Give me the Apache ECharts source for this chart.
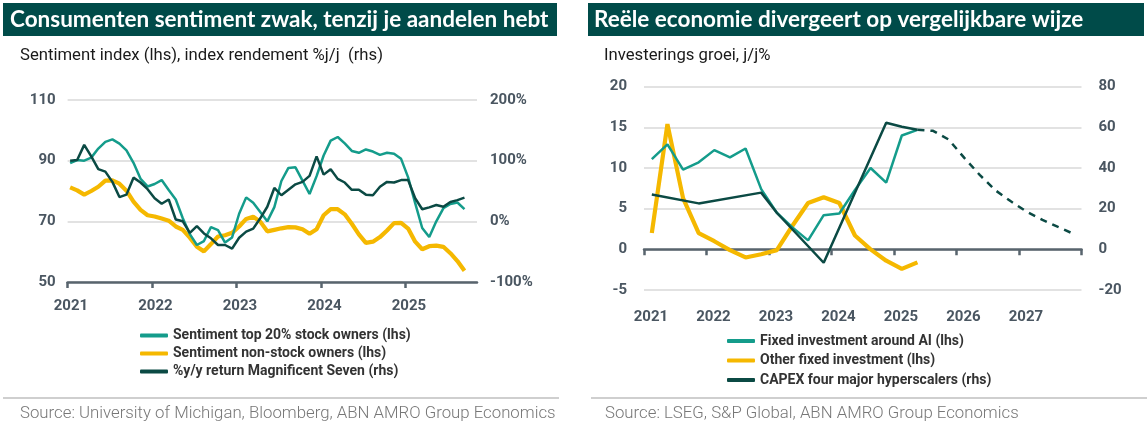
<!DOCTYPE html>
<html><head><meta charset="utf-8">
<script src="https://cdn.jsdelivr.net/npm/echarts@6/dist/echarts.min.js"></script>
<style>html,body{margin:0;padding:0;background:#fff}#c{width:1147px;height:426px}</style>
</head><body><div id="c"></div>
<script>
// ---------- LEFT CHART DATA (monthly, from Jan 2021) ----------
const leftStartYear = 2021;
const top20 = [89.2,90.2,90.0,91.0,94.0,96.2,97.0,95.6,93.4,89.3,84.0,81.5,82.3,83.6,80.3,77.2,71.0,65.8,62.2,63.5,68.1,67.1,63.0,64.7,72.5,77.9,76.1,73.1,70.0,74.7,83.3,87.6,87.8,83.4,79.0,84.9,91.7,96.6,97.8,95.7,93.2,92.6,93.7,93.0,91.9,92.6,92.3,90.6,84.5,76.0,67.8,64.8,70.0,74.3,75.7,76.2,74.0];
const nonStock = [81.2,80.2,78.8,80.0,81.4,83.4,83.5,82.4,80.1,76.5,73.8,72.0,71.6,70.9,70.2,68.3,67.2,64.6,61.6,60.1,62.5,65.0,65.4,66.2,68.3,70.8,71.5,69.9,66.7,67.2,67.7,68.1,68.0,67.4,65.9,67.4,72.0,74.0,74.0,72.3,69.2,65.7,62.9,63.3,64.8,67.0,69.4,69.5,67.6,63.3,60.8,61.8,62.0,61.6,59.5,56.9,53.7];
const mag7 = [100,101,126,107,86,82,65,40,44,72,64,53,38,29,36,3,0,-19,-8,-20,-28,-39,-39,-45,-27,-17,-12,5,24,55,43,52,61,65,75,107,77,86,70,64,52,52,44,43,57,65,64,68,68,38,20,23,27,24,32,35,39];
const leftYears = [2021,2022,2023,2024,2025];
const leftNames = ['Sentiment top 20% stock owners (lhs)','Sentiment non-stock owners (lhs)','%y/y return Magnificent Seven (rhs)'];

// ---------- RIGHT CHART DATA (quarterly, from Q1 2021) ----------
const rightStartYear = 2021;
const aiInv = [11.1,12.9,9.8,10.7,12.2,11.3,12.4,7.4,4.5,2.7,1.1,4.2,4.4,7.3,10.0,8.2,14.0,14.7];
const otherInv = [2.0,15.4,6.3,2.0,1.0,-0.1,-1.0,-0.6,-0.1,2.9,5.7,6.4,5.7,1.7,0.0,-1.4,-2.4,-1.6];
const capexQ = [0,3,7,8,11,15,16,17];
const capexVal = [27.0,22.6,27.9,18.0,-6.6,62.3,60.3,58.8];
const fcQ = [17,18,19,20,21,22,23,24,25,26,27];
const fcVal = [58.8,58.3,54.0,45.0,36.5,29.0,23.5,18.5,14.5,11.0,7.6];
const rightYears = [2021,2022,2023,2024,2025,2026,2027];
const rightNames = ['Fixed investment around AI (lhs)','Other fixed investment (lhs)','CAPEX four major hyperscalers (rhs)'];

const GREEN = '#149c8b', YELLOW = '#f5b800', DARK = '#0b4a44', BAR = '#004b49';
const AXISC = '#58646d', LABC = '#4a5661', GRIDC = '#d9d9d9';
const FONT = 'Roboto, "Liberation Sans", sans-serif';
const NARROW = '"Liberation Sans Narrow", Roboto, sans-serif';

const mX = k => leftStartYear + k / 12 + 0.03;
const qX = k => rightStartYear + (k + 0.5) / 4;
const pairsM = arr => arr.map((v, k) => [mX(k), v]);

const yLab = { color: LABC, fontFamily: FONT, fontSize: 15, fontWeight: 'bold' };

const chart = echarts.init(document.getElementById('c'), null, { renderer: 'canvas' });
chart.setOption({
  animation: false,
  backgroundColor: '#fff',
  grid: [
    { left: 67.6, top: 100, width: 409.4, height: 182 },
    { left: 644, top: 86.7, width: 437.5, height: 203.3 }
  ],
  xAxis: [
    { gridIndex: 0, type: 'value', min: 2021, max: 2025.845, position: 'bottom',
      axisLine: { show: true, onZero: false, lineStyle: { color: AXISC, width: 2.5 } },
      axisTick: { show: true, customValues: leftYears, length: 6, lineStyle: { color: AXISC, width: 2.5 } },
      axisLabel: { customValues: leftYears.map(y => y + 0.04), formatter: v => String(Math.floor(v)), margin: 17, ...yLab },
      splitLine: { show: false } },
    { gridIndex: 1, type: 'value', min: 2021, max: 2028, interval: 1, position: 'bottom',
      axisLine: { show: true, onZero: true, lineStyle: { color: AXISC, width: 2.5 } },
      axisTick: { show: true, length: 6, lineStyle: { color: AXISC, width: 2.5 } },
      axisLabel: { show: false }, splitLine: { show: false } },
    { gridIndex: 1, type: 'value', min: 2021, max: 2028, position: 'bottom',
      axisLine: { show: false, onZero: false }, axisTick: { show: false },
      axisLabel: { customValues: rightYears.map(y => y + 0.11), formatter: v => String(Math.floor(v)), margin: 20, ...yLab },
      splitLine: { show: false } }
  ],
  yAxis: [
    { gridIndex: 0, type: 'value', min: 50, max: 110, interval: 20, position: 'left',
      axisLine: { show: false }, axisTick: { show: false },
      axisLabel: { margin: 12, ...yLab }, splitLine: { lineStyle: { color: GRIDC, width: 1.5 } } },
    { gridIndex: 0, type: 'value', min: -100, max: 200, interval: 100, position: 'right',
      axisLine: { show: false }, axisTick: { show: false },
      axisLabel: { margin: 13, formatter: '{value}%', ...yLab }, splitLine: { show: false } },
    { gridIndex: 1, type: 'value', min: -5, max: 20, interval: 5, position: 'left',
      axisLine: { show: false }, axisTick: { show: false },
      axisLabel: { margin: 17, ...yLab }, splitLine: { lineStyle: { color: GRIDC, width: 1.5 } } },
    { gridIndex: 1, type: 'value', min: -20, max: 80, interval: 20, position: 'right',
      axisLine: { show: false }, axisTick: { show: false },
      axisLabel: { margin: 17, ...yLab }, splitLine: { show: false } }
  ],
  legend: [
    { data: leftNames, orient: 'vertical', left: 140, top: 328, padding: 0, itemWidth: 28, itemHeight: 4, itemGap: 3, icon: 'roundRect',
      textStyle: { fontFamily: NARROW, fontSize: 14, fontWeight: 'bold', color: '#333', lineHeight: 15 } },
    { data: rightNames, orient: 'vertical', left: 727, top: 333.5, padding: 0, itemWidth: 28, itemHeight: 4, itemGap: 4.5, icon: 'roundRect',
      textStyle: { fontFamily: NARROW, fontSize: 14, fontWeight: 'bold', color: '#333', lineHeight: 15 } }
  ],
  series: [
    { name: leftNames[1], type: 'line', xAxisIndex: 0, yAxisIndex: 0, data: pairsM(nonStock), showSymbol: false,
      itemStyle: { color: YELLOW }, lineStyle: { color: YELLOW, width: 4.2 } },
    { name: leftNames[0], type: 'line', xAxisIndex: 0, yAxisIndex: 0, data: pairsM(top20), showSymbol: false,
      itemStyle: { color: GREEN }, lineStyle: { color: GREEN, width: 2.5 } },
    { name: leftNames[2], type: 'line', xAxisIndex: 0, yAxisIndex: 1, data: pairsM(mag7), showSymbol: false,
      itemStyle: { color: DARK }, lineStyle: { color: DARK, width: 2.5 } },
    { name: rightNames[1], type: 'line', xAxisIndex: 1, yAxisIndex: 2, data: otherInv.map((v, k) => [qX(k), v]), showSymbol: false,
      itemStyle: { color: YELLOW }, lineStyle: { color: YELLOW, width: 4.2 } },
    { name: rightNames[0], type: 'line', xAxisIndex: 1, yAxisIndex: 2, data: aiInv.map((v, k) => [qX(k), v]), showSymbol: false,
      itemStyle: { color: GREEN }, lineStyle: { color: GREEN, width: 2.5 } },
    { name: rightNames[2], type: 'line', xAxisIndex: 1, yAxisIndex: 3, data: capexQ.map((q, i) => [qX(q), capexVal[i]]), showSymbol: false,
      itemStyle: { color: DARK }, lineStyle: { color: DARK, width: 2.5 } },
    { name: 'CAPEX forecast', type: 'line', xAxisIndex: 1, yAxisIndex: 3, data: fcQ.map((q, i) => [qX(q), fcVal[i]]), showSymbol: false,
      itemStyle: { color: DARK }, lineStyle: { color: DARK, width: 2.5, type: [7, 6] } }
  ],
  graphic: [
    { type: 'rect', shape: { x: 3, y: 3, width: 554, height: 33 }, style: { fill: BAR }, silent: true },
    { type: 'rect', shape: { x: 588, y: 3, width: 556, height: 33 }, style: { fill: BAR }, silent: true },
    { type: 'text', x: 10, y: 20, style: { text: 'Consumenten sentiment zwak, tenzij je aandelen hebt', fill: '#fff', font: 'bold 22.5px Lato, Roboto, sans-serif', verticalAlign: 'middle' } },
    { type: 'text', x: 594, y: 20, style: { text: 'Reële economie divergeert op vergelijkbare wijze', fill: '#fff', font: 'bold 22.5px Lato, Roboto, sans-serif', verticalAlign: 'middle' } },
    { type: 'text', x: 20, y: 56, style: { text: 'Sentiment index (lhs), index rendement %j/j  (rhs)', fill: '#1a1a1a', font: '16.7px Roboto, sans-serif', verticalAlign: 'middle' } },
    { type: 'text', x: 604, y: 56, style: { text: 'Investerings groei, j/j%', fill: '#1a1a1a', font: '16.7px Roboto, sans-serif', verticalAlign: 'middle' } },
    { type: 'rect', shape: { x: 3, y: 397, width: 556, height: 2 }, style: { fill: '#cfcfcf' }, silent: true },
    { type: 'rect', shape: { x: 591, y: 397, width: 556, height: 2 }, style: { fill: '#cfcfcf' }, silent: true },
    { type: 'text', x: 20, y: 414, style: { text: 'Source: University of Michigan, Bloomberg, ABN AMRO Group Economics', fill: '#777', font: '300 16.8px Roboto, sans-serif', verticalAlign: 'middle' } },
    { type: 'text', x: 605, y: 414, style: { text: 'Source: LSEG, S&P Global, ABN AMRO Group Economics', fill: '#777', font: '300 16.8px Roboto, sans-serif', verticalAlign: 'middle' } }
  ]
});
</script></body></html>
